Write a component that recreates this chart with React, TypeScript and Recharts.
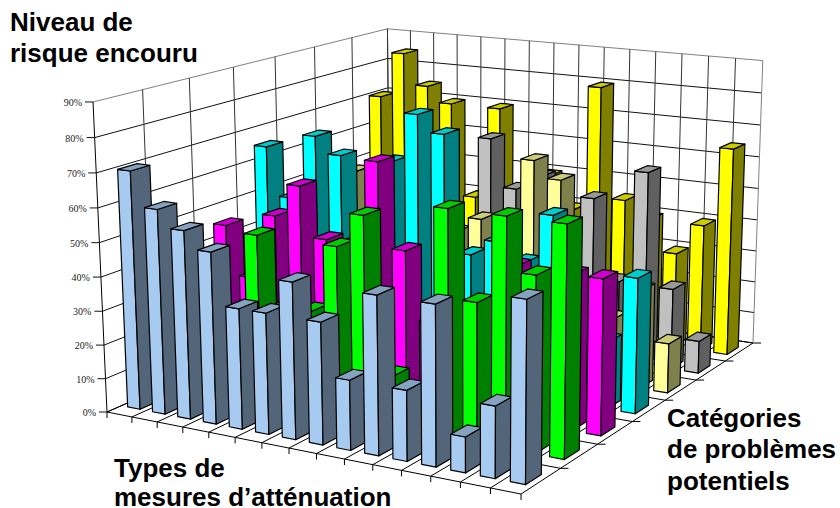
import { ScatterChart, Scatter, XAxis, YAxis, Customized } from "recharts";

const WIDTH = 840;
const HEIGHT = 508;

// risk level (%) per mitigation type, one list per problem category, front row first
const blueValues = [70, 60, 55, 50, 35, 35, 45, 35, 20, 45, 20, 45, 10, 20, 50];
const greenValues = [35, 30, 20, 50, 30, 30, 50, 60, 15, 10, 65, 40, 65, 50, 65];
const magentaValues = [45, 30, 50, 60, 45, 45, 70, 45, 25, 25, 25, 45, 30, 45, 45];
const cyanValues = [65, 50, 70, 65, 35, 65, 80, 75, 40, 45, 40, 55, 20, 20, 40];
const paleYellowValues = [30, 40, 55, 45, 50, 40, 40, 45, 30, 65, 60, 25, 20, 30, 15];
const greyValues = [35, 40, 45, 50, 45, 25, 65, 50, 55, 40, 50, 25, 60, 25, 10];
const yellowValues = [70, 85, 75, 70, 40, 70, 30, 50, 40, 80, 45, 40, 30, 40, 65];

const percentTicks = [0, 10, 20, 30, 40, 50, 60, 70, 80, 90];

const rows = [
  { values: blueValues, front: "#a6caf0", side: "#536578", top: "#85a2c0" },
  { values: greenValues, front: "#00ff00", side: "#008000", top: "#00cc00" },
  { values: magentaValues, front: "#ff00ff", side: "#800080", top: "#cc00cc" },
  { values: cyanValues, front: "#00ffff", side: "#008080", top: "#00cccc" },
  { values: paleYellowValues, front: "#ffff99", side: "#80804d", top: "#cccc7a" },
  { values: greyValues, front: "#c0c0c0", side: "#606060", top: "#999999" },
  { values: yellowValues, front: "#ffff00", side: "#808000", top: "#cccc00" },
];

const COLS = blueValues.length;
const DEPTH = rows.length;

// perspective camera: u along the front edge, v into the depth, t up the value axis (all 0..1)
function project(u: number, v: number, t: number): [number, number] {
  const w = 1 - 0.1035 * u + 0.2067 * v - 0.037 * t;
  const x = 360.1 * u + 363.6 * v - 17.4 * t + 107;
  const y = 30.9 * u - 64.5 * v - 313.8 * t + 412;
  return [x / w, y / w];
}

const toPoints = (corners: [number, number, number][]) =>
  corners.map(([u, v, t]) => project(u, v, t).join(",")).join(" ");

function Bar3D(props: any) {
  const { cx, cy, row } = props;
  // the chart's own scales put col on 0..WIDTH and value on HEIGHT..0
  const u0 = cx / WIDTH + 0.25 / COLS;
  const u1 = cx / WIDTH + 0.75 / COLS;
  const v0 = (row + 0.3) / DEPTH;
  const v1 = (row + 0.7) / DEPTH;
  const t = 1 - cy / HEIGHT;
  const colors = rows[row];
  const edge = { stroke: "#000", strokeWidth: 1.2, strokeLinejoin: "round" as const };
  return (
    <g>
      <polygon points={toPoints([[u0, v0, 0], [u1, v0, 0], [u1, v0, t], [u0, v0, t]])} fill={colors.front} {...edge} />
      <polygon points={toPoints([[u1, v0, 0], [u1, v1, 0], [u1, v1, t], [u1, v0, t]])} fill={colors.side} {...edge} />
      <polygon points={toPoints([[u0, v0, t], [u1, v0, t], [u1, v1, t], [u0, v1, t]])} fill={colors.top} {...edge} />
    </g>
  );
}

function seg(a: [number, number], b: [number, number], stroke: string, key: string) {
  return <line key={key} x1={a[0]} y1={a[1]} x2={b[0]} y2={b[1]} stroke={stroke} strokeWidth={1} />;
}

// back walls, floor grid, tick marks and the three axis titles
function Frame() {
  const lines = [];
  percentTicks.forEach((p) => {
    const t = p / 90;
    const color = p === 90 ? "#808080" : "#111";
    lines.push(seg(project(0, 0, t), project(0, 1, t), color, `lw${p}`));
    lines.push(seg(project(0, 1, t), project(1, 1, t), color, `rw${p}`));
    const [x, y] = project(0, 0, t);
    lines.push(seg([x - 8, y], [x, y], "#111", `yt${p}`));
  });
  for (let j = 0; j <= DEPTH; j++) {
    const v = j / DEPTH;
    lines.push(seg(project(0, v, 0), project(0, v, 1), j === 0 ? "#000" : "#333", `lv${j}`));
    lines.push(seg(project(0, v, 0), project(1, v, 0), "#000", `fv${j}`));
    const [x, y] = project(1, v, 0);
    if (j > 0) lines.push(seg([x, y], [x + 8, y], "#000", `rt${j}`));
  }
  for (let i = 0; i <= COLS; i++) {
    const u = i / COLS;
    lines.push(seg(project(u, 1, 0), project(u, 1, 1), i === COLS ? "#808080" : "#333", `rv${i}`));
    lines.push(seg(project(u, 0, 0), project(u, 1, 0), "#000", `fu${i}`));
    const [x, y] = project(u, 0, 0);
    lines.push(seg([x, y], [x, y + 6], "#000", `ft${i}`));
  }
  const title = { fontFamily: "Liberation Sans", fontWeight: 700, fontSize: 26, fill: "#000" };
  return (
    <g>
      {lines}
      <text x={10} y={31} {...title}>Niveau de</text>
      <text x={10} y={62} {...title}>risque encouru</text>
      <text x={114} y={477} {...title}>Types de</text>
      <text x={114} y={506} {...title}>mesures d’atténuation</text>
      <text x={667} y={427} {...title}>Catégories</text>
      <text x={667} y={458} {...title}>de problèmes</text>
      <text x={667} y={490} {...title}>potentiels</text>
    </g>
  );
}

function PercentTick(props: any) {
  const { payload } = props;
  const [x, y] = project(0, 0, payload.value / 90);
  return (
    <text x={x - 11} y={y + 4} textAnchor="end" fontFamily="Liberation Serif" fontSize={10} fill="#222">
      {payload.value}%
    </text>
  );
}

export default function App() {
  return (
    <div style={{ position: "absolute", left: 0, top: 0, width: WIDTH, height: HEIGHT, background: "#fff" }}>
      <ScatterChart width={WIDTH} height={HEIGHT} margin={{ top: 0, right: 0, bottom: 0, left: 0 }}>
        <XAxis type="number" dataKey="col" domain={[0, COLS]} hide />
        <YAxis
          type="number"
          dataKey="value"
          domain={[0, 90]}
          ticks={percentTicks}
          interval={0}
          width={1}
          mirror
          axisLine={false}
          tickLine={false}
          tick={<PercentTick />}
        />
        <Customized component={<Frame />} />
        {/* back row first so nearer bars paint over it; columns run left to right */}
        {rows
          .map((r, row) => ({ r, row }))
          .reverse()
          .map(({ r, row }) => (
            <Scatter
              key={row}
              data={r.values.map((value, col) => ({ col, value }))}
              isAnimationActive={false}
              shape={(p: any) => <Bar3D {...p} row={row} />}
            />
          ))}
      </ScatterChart>
    </div>
  );
}
